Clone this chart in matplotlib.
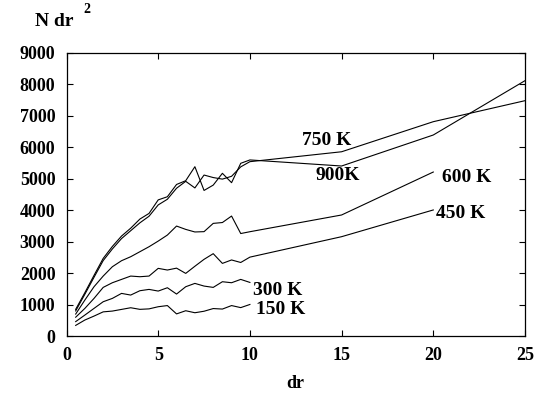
import matplotlib
matplotlib.use("Agg")
import matplotlib.pyplot as plt

plt.rcParams['font.family'] = ['Liberation Serif', 'DejaVu Serif']
plt.rcParams['font.weight'] = 'bold'

# dr values (0.5 step up to 10, then coarse points)
dr_short = [0.5, 1.0, 1.5, 2.0, 2.5, 3.0, 3.5, 4.0, 4.5, 5.0,
            5.5, 6.0, 6.5, 7.0, 7.5, 8.0, 8.5, 9.0, 9.5, 10.0]
dr_mid = dr_short + [15, 20]
dr_long = dr_short + [15, 20, 25]

n150 = [340, 510, 636, 770, 795, 848, 901, 850, 865, 933,
        970, 705, 806, 742, 790, 875, 859, 970, 905, 1005]
n300 = [460, 668, 880, 1092, 1198, 1357, 1304, 1442, 1484, 1431,
        1537, 1336, 1569, 1675, 1590, 1548, 1728, 1696, 1802, 1706]
n450 = [600, 880, 1198, 1548, 1696, 1802, 1908, 1887, 1908, 2153,
        2100, 2160, 1993, 2220, 2440, 2620, 2311, 2420, 2340, 2510,
        3160, 4010]
n600 = [700, 1145, 1569, 1908, 2205, 2396, 2523, 2682, 2841, 3020,
        3212, 3498, 3392, 3310, 3320, 3583, 3610, 3816, 3260, 3318,
        3850, 5216]
n750 = [800, 1330, 1870, 2400, 2770, 3100, 3350, 3600, 3810, 4170,
        4350, 4700, 4920, 4710, 5120, 5040, 4990, 5080, 5380, 5545,
        5860, 6816, 7484]
n900 = [850, 1380, 1930, 2470, 2850, 3180, 3430, 3720, 3900, 4330,
        4430, 4820, 4940, 5385, 4630, 4800, 5175, 4877, 5493, 5600,
        5407, 6393, 8120]

labels = ['150 K', '300 K', '450 K', '600 K', '750 K', '900K']
label_pos = [(11.7, 830), (11.5, 1460), (21.5, 3900), (21.8, 5040),
             (14.2, 6220), (14.8, 5100)]

fig = plt.figure(figsize=(5.39, 3.94), dpi=100)
ax = fig.add_axes([0.1234, 0.147, 0.8506, 0.7185])

series = [(dr_short, n150), (dr_short, n300), (dr_mid, n450),
          (dr_mid, n600), (dr_long, n750), (dr_long, n900)]
for x, y in series:
    ax.plot(x, y, color='black', lw=0.8)

for lab, (px, py) in zip(labels, label_pos):
    ax.text(px, py, lab, fontsize=14, fontweight='bold',
            ha='center', va='center')

ax.set_xlim(0, 25)
ax.set_ylim(0, 9000)
ax.set_xticks([0, 5, 10, 15, 20, 25])
ax.set_yticks(range(0, 9001, 1000))
ax.tick_params(direction='in', top=True, right=True, length=4,
               labelsize=13, pad=8)
for lab in ax.get_xticklabels() + ax.get_yticklabels():
    lab.set_fontweight('bold')
for s in ax.spines.values():
    s.set_linewidth(0.9)

ax.set_xlabel('dr', fontsize=13, fontweight='bold', labelpad=8)
fig.text(0.065, 0.945, 'N dr', fontsize=14, fontweight='bold',
         ha='left', va='center')
fig.text(0.155, 0.975, '2', fontsize=10, fontweight='bold',
         ha='left', va='center')

fig.savefig('out.png', dpi=100)
